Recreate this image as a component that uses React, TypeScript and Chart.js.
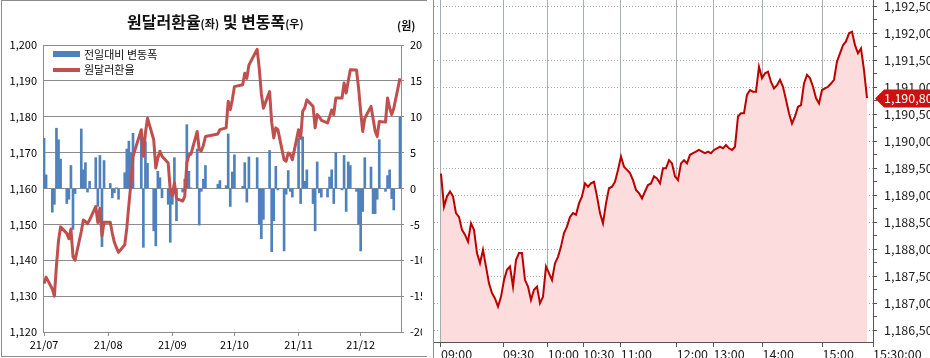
import React, { useEffect, useRef } from "react";
import { Chart, registerables } from "chart.js";

Chart.register(...registerables);

// ---------- Left chart data (2021, daily) ----------
const dates = [
  "07-01","07-02","07-05","07-06","07-07","07-08","07-09","07-12","07-13","07-14","07-15","07-16",
  "07-19","07-20","07-21","07-22","07-23","07-26","07-27","07-28","07-29","07-30",
  "08-02","08-03","08-04","08-05","08-06","08-09","08-10","08-11","08-12","08-13",
  "08-17","08-18","08-19","08-20","08-23","08-24","08-25","08-26","08-27","08-30","08-31",
  "09-01","09-02","09-03","09-06","09-07","09-08","09-09","09-10","09-13","09-14","09-15","09-16","09-17",
  "09-23","09-24","09-27","09-28","09-29","09-30",
  "10-01","10-05","10-06","10-07","10-08","10-12","10-13","10-14","10-15","10-18","10-19","10-20","10-21","10-22",
  "10-25","10-26","10-27","10-28","10-29",
  "11-01","11-02","11-03","11-04","11-05","11-08","11-09","11-10","11-11","11-12",
  "11-15","11-16","11-17","11-18","11-19","11-22","11-23","11-24","11-25","11-26","11-29","11-30",
  "12-01","12-02","12-03","12-06","12-07","12-08","12-09","12-10","12-13","12-14","12-15","12-16","12-17","12-20",
];

const rates = [
  1133.5,1135.3,1132.0,1130.0,1138.5,1145.5,1149.3,1147.5,1146.0,1148.7,1141.0,1140.0,
  1148.0,1151.2,1150.8,1150.2,1151.2,1155.0,1150.5,1154.5,1146.8,1150.6,
  1150.6,1147.5,1145.0,1143.5,1142.2,1144.3,1149.0,1155.5,1161.5,1169.0,
  1176.4,1169.0,1175.5,1179.6,1173.6,1165.7,1168.5,1170.4,1169.0,1167.1,1159.5,
  1158.0,1161.6,1157.2,1156.5,1157.8,1167.1,1169.4,1169.6,1175.9,1170.8,1170.5,1172.0,1174.5,
  1175.2,1176.4,1176.9,1184.3,1182.0,1184.8,
  1188.4,1188.9,1192.1,1190.7,1194.4,1198.8,1193.5,1186.5,1182.4,1187.0,1178.5,1174.1,1176.9,1176.4,
  1168.0,1167.6,1169.9,1169.5,1168.0,
  1176.4,1174.0,1181.5,1182.5,1184.7,1182.9,1176.9,1180.6,1180.0,1179.0,
  1178.3,1180.0,1181.9,1180.6,1185.2,1185.2,1189.4,1186.6,1189.9,1193.1,1193.0,1188.0,
  1181.5,1175.9,1179.6,1182.9,1179.5,1176.0,1174.5,1178.7,1178.5,1185.2,1182.5,1180.6,1182.3,1190.7,
];

const changes = [
  7.0,1.9,-3.3,-2.2,8.4,6.8,4.1,-2.1,-1.5,3.2,-5.7,-0.7,
  8.3,2.6,3.6,-0.5,1.0,4.3,-2.5,4.6,-8.1,3.9,
  0.7,-1.3,-0.6,0.1,-1.5,2.2,5.5,6.6,5.0,7.7,
  7.8,-8.2,6.5,3.5,-5.9,-8.0,2.4,1.5,-1.3,-2.2,-7.5,
  -2.2,4.3,-4.5,-0.5,1.3,8.9,2.4,0.1,5.5,-5.1,-0.4,1.3,3.2,
  0.6,1.1,0.4,7.6,-2.5,2.3,
  4.7,0.3,3.6,-1.9,4.4,4.3,-5.0,-7.0,-4.3,5.3,-8.8,-4.5,3.1,-0.2,
  -8.7,-0.8,2.5,-0.4,-1.2,
  7.0,-2.1,7.2,1.0,2.6,-2.1,-5.9,3.7,-0.6,-1.2,
  -1.2,1.6,2.6,-2.1,5.0,-0.2,4.6,-3.2,3.7,3.2,-0.4,-5.0,
  -8.7,-3.2,4.3,3.0,-3.5,-3.5,-1.5,6.8,-0.4,1.8,2.6,-1.4,-3.0,10.0,
];

const monthTickDates = ["07-01", "08-01", "09-01", "10-01", "11-01", "12-01"];
const monthTickLabels = ["21/07", "21/08", "21/09", "21/10", "21/11", "21/12"];

// ---------- Right chart data (intraday) ----------
const intraday = [
  1189.40,1188.79,1188.98,1189.07,1188.98,1188.67,1188.60,1188.36,1188.27,1188.14,
  1188.48,1188.36,1187.93,1187.74,1187.99,1187.68,1187.37,1187.19,1187.09,1186.94,
  1187.12,1187.43,1187.62,1187.68,1187.31,1187.80,1187.93,1187.93,1187.43,1187.31,
  1187.06,1187.25,1187.31,1187.00,1187.12,1187.68,1187.56,1187.43,1187.74,1187.86,
  1188.05,1188.30,1188.42,1188.60,1188.67,1188.64,1188.85,1188.98,1189.22,1189.16,
  1189.22,1189.25,1188.98,1188.67,1188.48,1188.85,1189.13,1189.16,1189.25,1189.47,
  1189.72,1189.53,1189.47,1189.41,1189.28,1189.10,1189.04,1188.94,1189.07,1189.19,
  1189.22,1189.35,1189.31,1189.22,1189.50,1189.50,1189.65,1189.59,1189.35,1189.28,
  1189.59,1189.65,1189.59,1189.75,1189.78,1189.81,1189.84,1189.81,1189.78,1189.81,
  1189.78,1189.84,1189.87,1189.90,1189.87,1189.93,1189.87,1189.84,1189.90,1190.46,
  1190.52,1190.52,1190.86,1190.95,1190.92,1190.92,1191.38,1191.17,1191.26,1191.29,
  1191.10,1190.98,1191.04,1191.14,1191.01,1190.77,1190.52,1190.33,1190.46,1190.64,
  1190.67,1191.07,1191.23,1191.17,1191.01,1190.80,1190.70,1190.95,1190.98,1191.01,
  1191.07,1191.14,1191.48,1191.63,1191.78,1191.85,1192.00,1192.03,1191.78,1191.63,
  1191.72,1191.32,1190.80,
];

const timeTickLabels = ["09:00","09:30","10:00","10:30","11:00","12:00","13:00","14:00","15:00","15:30:00"];
const timeTickIdx = [0, 20.67, 35.6, 47.4, 59.9, 78.6, 90.8, 107.2, 127.2, 144];

const LEFT_FONT = "'Noto Sans CJK KR', 'Noto Sans', sans-serif";
const RIGHT_FONT = "'Noto Sans CJK KR', 'Noto Sans', sans-serif";

const dayOf = (md: string) => {
  const [m, d] = md.split("-").map(Number);
  return (Date.UTC(2021, m - 1, d) - Date.UTC(2021, 6, 1)) / 86400000;
};

const fmtPrice = (v: number) => {
  const s = v.toFixed(2);
  const [ip, dp] = s.split(".");
  return Number(ip).toLocaleString("en-US") + "," + dp;
};

export default function App() {
  const leftRef = useRef<HTMLCanvasElement | null>(null);
  const rightRef = useRef<HTMLCanvasElement | null>(null);

  useEffect(() => {
    const monthTickDays = monthTickDates.map(dayOf);
    const left = new Chart(leftRef.current as HTMLCanvasElement, {
      type: "bar",
      data: {
        datasets: [
          {
            type: "line",
            label: "원달러환율",
            data: dates.map((d, i) => ({ x: dayOf(d), y: rates[i] })),
            yAxisID: "y",
            borderColor: "#c0504d",
            borderWidth: 3,
            pointRadius: 0,
            tension: 0,
            borderJoinStyle: "round",
            order: 0,
          } as any,
          {
            type: "bar",
            label: "전일대비 변동폭",
            data: dates.map((d, i) => ({ x: dayOf(d), y: changes[i] })),
            yAxisID: "y2",
            backgroundColor: "#4f81bd",
            barThickness: 2,
            order: 1,
          } as any,
        ],
      },
      options: {
        animation: false,
        responsive: false,
        maintainAspectRatio: false,
        layout: { padding: { top: 45, left: 0, right: 0, bottom: 0 } },
        plugins: { legend: { display: false }, tooltip: { enabled: false } },
        scales: {
          x: {
            type: "linear",
            min: -0.5,
            max: 172.5,
            offset: false,
            grid: { drawOnChartArea: false, offset: false, color: "#8c8c8c", tickLength: 4 },
            border: { color: "#8c8c8c" },
            ticks: {
              autoSkip: false,
              maxRotation: 0,
              padding: 2,
              color: "#000",
              font: { family: LEFT_FONT, size: 11 },
              callback: (_v: any, i: number) => monthTickLabels[i] ?? "",
            },
            afterBuildTicks: (s: any) => {
              s.ticks = monthTickDays.map((v) => ({ value: v }));
            },
            afterFit: (s: any) => {
              s.height = 26;
              s.paddingLeft = 0;
              s.paddingRight = 0;
            },
          } as any,
          y: {
            position: "left",
            min: 1120,
            max: 1200,
            ticks: {
              stepSize: 10,
              padding: 6,
              color: "#000",
              font: { family: LEFT_FONT, size: 11 },
              callback: (v: any) => Number(v).toLocaleString("en-US"),
            },
            grid: { color: "#8c8c8c", drawTicks: false },
            border: { color: "#8c8c8c" },
            afterFit: (s: any) => {
              s.width = 43;
              s.paddingTop = 0;
              s.paddingBottom = 0;
            },
          } as any,
          y2: {
            position: "right",
            min: -20,
            max: 20,
            ticks: {
              stepSize: 5,
              padding: 6,
              color: "#000",
              font: { family: LEFT_FONT, size: 11 },
            },
            grid: { drawOnChartArea: false, color: "#8c8c8c", tickLength: 3 },
            border: { color: "#8c8c8c" },
            afterFit: (s: any) => {
              s.width = 21;
              s.paddingTop = 0;
              s.paddingBottom = 0;
            },
          } as any,
        },
      },
    });

    const lastValue = intraday[intraday.length - 1];
    const markerPlugin = {
      id: "lastMarker",
      afterDraw(chart: any) {
        const ys = chart.scales.y;
        const ctx = chart.ctx;
        const y = Math.round(ys.getPixelForValue(lastValue)) + 0.5;
        const x0 = ys.left + 2;
        const right = chart.width;
        ctx.save();
        ctx.fillStyle = "#cc1111";
        ctx.beginPath();
        ctx.moveTo(x0, y);
        ctx.lineTo(x0 + 9, y - 9);
        ctx.lineTo(right, y - 9);
        ctx.lineTo(right, y + 9);
        ctx.lineTo(x0 + 9, y + 9);
        ctx.closePath();
        ctx.fill();
        ctx.fillStyle = "#ffffff";
        ctx.font = `12.5px ${RIGHT_FONT}`;
        ctx.textBaseline = "middle";
        ctx.textAlign = "left";
        ctx.fillText(fmtPrice(lastValue), ys.left + 11, y);
        ctx.restore();
      },
    };

    const priceTicks: number[] = [];
    for (let k = 0; k <= 24; k++) priceTicks.push(1186.5 + k * 0.25);
    const isMajor = (v: number) => Math.round(v * 100) % 50 === 0;

    const right = new Chart(rightRef.current as HTMLCanvasElement, {
      type: "line",
      data: {
        datasets: [
          {
            data: intraday.map((v, i) => ({ x: i, y: v })),
            borderColor: "#bb0000",
            borderWidth: 2,
            backgroundColor: "#fcdcdc",
            fill: "start",
            pointRadius: 0,
            tension: 0,
          },
        ],
      },
      options: {
        animation: false,
        responsive: false,
        maintainAspectRatio: false,
        layout: { padding: 0 },
        plugins: { legend: { display: false }, tooltip: { enabled: false } },
        scales: {
          x: {
            type: "linear",
            min: -2.33,
            max: 144,
            grid: { color: "#a8adb3", tickColor: "#555", tickLength: 5 },
            border: { color: "#555" },
            ticks: {
              autoSkip: false,
              maxRotation: 0,
              align: "start",
              padding: 0,
              color: "#222",
              font: { family: RIGHT_FONT, size: 12.5 },
              callback: (_v: any, i: number) => timeTickLabels[i] ?? "",
            },
            afterBuildTicks: (s: any) => {
              s.ticks = timeTickIdx.map((v) => ({ value: v }));
            },
            afterFit: (s: any) => {
              s.height = 16;
              s.paddingLeft = 0;
              s.paddingRight = 0;
            },
          } as any,
          y: {
            position: "right",
            min: 1186.283,
            max: 1192.617,
            afterBuildTicks: (s: any) => {
              s.ticks = priceTicks.map((v) => ({ value: v }));
            },
            ticks: {
              autoSkip: false,
              padding: 7,
              color: "#222",
              font: { family: RIGHT_FONT, size: 12.5 },
              callback: (v: any) => (isMajor(Number(v)) ? fmtPrice(Number(v)) : ""),
            },
            grid: {
              color: (c: any) => (c.tick && isMajor(c.tick.value) ? "#a8a8a8" : "rgba(0,0,0,0)"),
              tickColor: "#555",
              tickLength: 4,
              tickBorderDash: [],
            },
            border: { color: "#555", dash: [1, 2] },
            afterFit: (s: any) => {
              s.width = 57;
              s.paddingTop = 0;
              s.paddingBottom = 0;
            },
          } as any,
        },
      },
      plugins: [markerPlugin],
    });

    return () => {
      left.destroy();
      right.destroy();
    };
  }, []);

  return (
    <div
      style={{
        position: "fixed",
        left: 0,
        top: 0,
        width: 930,
        height: 358,
        background: "#fff",
        overflow: "hidden",
        fontFamily: LEFT_FONT,
      }}
    >
      <div
        style={{
          position: "absolute",
          left: 1,
          top: 0,
          width: 425,
          height: 355,
          borderTop: "1px solid #8c8c8c",
          borderLeft: "1px solid #8c8c8c",
          borderBottom: "1px solid #8c8c8c",
        }}
      />
      <canvas
        ref={leftRef}
        width={422}
        height={358}
        style={{ position: "absolute", left: 0, top: 0 }}
      />
      <div
        style={{
          position: "absolute",
          left: 127,
          top: 11,
          whiteSpace: "nowrap",
          lineHeight: "20px",
          fontWeight: 700,
          fontSize: 16,
          color: "#111",
        }}
      >
        원달러환율<span style={{ fontSize: 11 }}>(좌)</span> 및 변동폭
        <span style={{ fontSize: 11 }}>(우)</span>
      </div>
      <div
        style={{
          position: "absolute",
          left: 397,
          top: 18,
          whiteSpace: "nowrap",
          lineHeight: "14px",
          fontWeight: 700,
          fontSize: 11,
          color: "#111",
        }}
      >
        (원)
      </div>
      <div style={{ position: "absolute", left: 53, top: 51, width: 27, height: 6, background: "#4f81bd" }} />
      <div
        style={{
          position: "absolute",
          left: 84,
          top: 47,
          fontSize: 11,
          lineHeight: "15px",
          whiteSpace: "nowrap",
          color: "#111",
        }}
      >
        전일대비 변동폭
      </div>
      <div style={{ position: "absolute", left: 53, top: 68, width: 27, height: 4, background: "#c0504d" }} />
      <div
        style={{
          position: "absolute",
          left: 84,
          top: 62,
          fontSize: 11,
          lineHeight: "15px",
          whiteSpace: "nowrap",
          color: "#111",
        }}
      >
        원달러환율
      </div>
      <div style={{ position: "absolute", left: 433, top: 0, width: 1, height: 358, background: "#8c8c8c" }} />
      <canvas
        ref={rightRef}
        width={496}
        height={358}
        style={{ position: "absolute", left: 434, top: 0 }}
      />
    </div>
  );
}
